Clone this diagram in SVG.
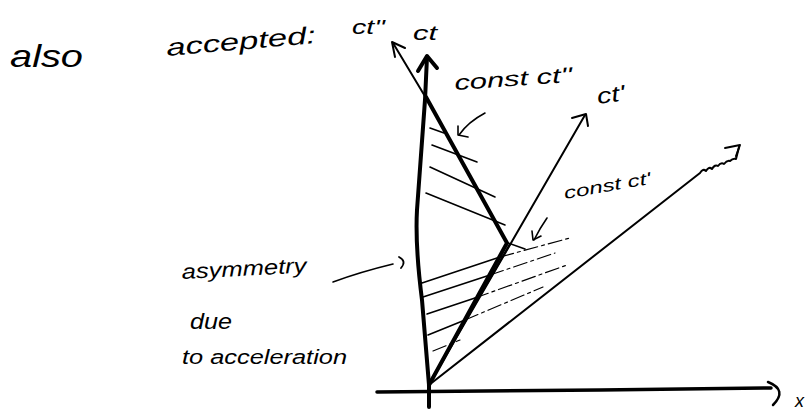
<svg xmlns="http://www.w3.org/2000/svg" width="806" height="410" viewBox="0 0 806 410">
<style>
.hand{font-family:"Liberation Sans","DejaVu Sans",sans-serif;font-style:italic;fill:#000}
.thick{fill:none;stroke:#000;stroke-width:4;stroke-linecap:round;stroke-linejoin:round}
.thin{fill:none;stroke:#000;stroke-width:2;stroke-linecap:round;stroke-linejoin:round}
.hatch{fill:none;stroke:#000;stroke-width:1.6;stroke-linecap:round}
.faint{fill:none;stroke:#000;stroke-width:1.2;stroke-dasharray:14 4 3 4;stroke-linecap:round}
</style>
<rect width="806" height="410" fill="#fff"/>
<g id="labels">
<text class="hand" x="10" y="67" font-size="32" textLength="73" lengthAdjust="spacingAndGlyphs">also</text>
<text class="hand" x="167" y="56" font-size="24" textLength="150" lengthAdjust="spacingAndGlyphs" transform="rotate(-5 167 56)">accepted:</text>
<text class="hand" x="352" y="34" font-size="21" textLength="33" lengthAdjust="spacingAndGlyphs">ct''</text>
<text class="hand" x="413" y="40" font-size="21" textLength="24" lengthAdjust="spacingAndGlyphs">ct</text>
<text class="hand" x="455" y="90" font-size="21" textLength="118" lengthAdjust="spacingAndGlyphs" transform="rotate(-4 455 90)">const ct''</text>
<text class="hand" x="598" y="104" font-size="22" textLength="28" lengthAdjust="spacingAndGlyphs" transform="rotate(-8 598 104)">ct'</text>
<text class="hand" x="565" y="199" font-size="17" textLength="88" lengthAdjust="spacingAndGlyphs" transform="rotate(-10 565 199)">const ct'</text>
<text class="hand" x="182" y="279" font-size="21" textLength="125" lengthAdjust="spacingAndGlyphs" transform="rotate(-3 182 279)">asymmetry</text>
<text class="hand" x="190" y="329" font-size="22" textLength="42" lengthAdjust="spacingAndGlyphs">due</text>
<text class="hand" x="182" y="364" font-size="20" textLength="165" lengthAdjust="spacingAndGlyphs">to acceleration</text>
<text class="hand" x="795" y="407" font-size="18">x</text>
</g>
<g id="axes">
<path id="x-axis" class="thick" d="M377,392 L600,390 L771,388" style="stroke-width:3.5"/>
<path class="thin" d="M768,382 Q788,390 773,405" style="stroke-width:2.5"/>
<path id="ct-axis" class="thick" d="M429,407 L429,385 L422,300 Q415,245 417,210 L425,100 L427,57"/>
<path class="thick" d="M418,71 L427,56 L437,68"/>
<path id="ct2-axis" class="thin" d="M426,98 L393,43"/>
<path class="thin" d="M395,57 L392,42 L405,48"/>
<path id="ct1-axis" class="thin" d="M429,385 L585,115"/>
<path class="thin" d="M572,118 L586,114 L588,126"/>
<path id="light-line" class="thin" d="M429,385 L700,173 q3,-5 6,-2 q3,-5 6,-2 q3,-5 6,-3 q3,-4 6,-2 q3,-4 6,-3 q3,-3 6,-2 L739,147"/>
<path class="thin" d="M725,148 L740,145 L736,156"/>
<path id="worldline" class="thick" d="M429,385 L507,243 L426,97"/>
<path class="thin" d="M431,380 L510,244"/>
</g>
<g id="hatching">
<path class="hatch" d="M430,128 L444,133"/>
<path class="hatch" d="M432,145 L477,162"/>
<path class="hatch" d="M430,167 L495,197"/>
<path class="hatch" d="M426,193 L505,225"/>
<path class="hatch" d="M422,283 L500,257"/>
<path class="faint" d="M500,257 L570,238"/>
<path class="hatch" d="M423,297 L490,275"/>
<path class="faint" d="M490,275 L555,253"/>
<path class="hatch" d="M427,314 L475,298"/>
<path class="faint" d="M475,298 L567,265"/>
<path class="hatch" d="M428,335 L465,320"/>
<path class="faint" d="M465,320 L543,287"/>
<path class="faint" d="M433,351 L460,340"/>
<path class="hatch" d="M508,243 L525,249"/>
</g>
<g id="pointers">
<path class="thin" d="M485,113 Q468,122 459,135" style="stroke-width:1.6"/>
<path class="thin" d="M458,126 L458,135 L468,137" style="stroke-width:1.6"/>
<path class="thin" d="M547,218 Q540,228 534,240" style="stroke-width:1.6"/>
<path class="thin" d="M532,231 L533,240 L541,236" style="stroke-width:1.6"/>
<path class="thin" d="M333,282 Q360,272 393,264" style="stroke-width:1.6"/>
<path class="thin" d="M399,257 Q407,261 401,268" style="stroke-width:1.8"/>
</g>
</svg>
